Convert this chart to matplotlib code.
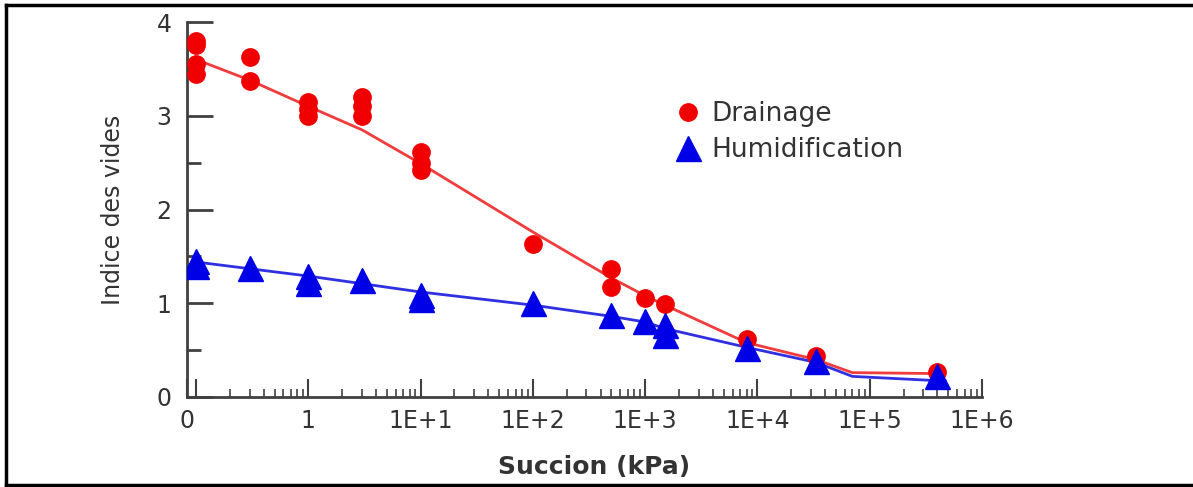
import numpy as np
import matplotlib.pyplot as plt
from matplotlib.ticker import FixedLocator, NullFormatter
from matplotlib.lines import Line2D

# Drainage measurements (succion kPa, indice des vides)
drain_x = [0.1, 0.1, 0.1, 0.1, 0.3, 0.3, 1, 1, 1, 3, 3, 3, 10, 10, 10,
           100, 500, 500, 1000, 1500, 8000, 33000, 400000]
drain_y = [3.80, 3.75, 3.55, 3.45, 3.63, 3.37, 3.15, 3.07, 3.00, 3.20, 3.10, 3.00,
           2.61, 2.50, 2.42, 1.63, 1.37, 1.17, 1.06, 0.99, 0.62, 0.44, 0.27]

# Humidification measurements
hum_x = [0.1, 0.1, 0.3, 1, 1, 3, 10, 10, 100, 500, 1000, 1500, 1500, 8000, 33000, 400000]
hum_y = [1.45, 1.40, 1.38, 1.29, 1.22, 1.25, 1.09, 1.05, 1.00, 0.88, 0.81, 0.77, 0.66,
         0.52, 0.38, 0.22]

# fitted curves
drain_fit_x = [0.1, 0.3, 1, 3, 10, 100, 500, 1000, 1500, 8000, 33000, 70000, 400000]
drain_fit_y = [3.60, 3.38, 3.10, 2.85, 2.49, 1.76, 1.27, 1.08, 0.98, 0.58, 0.40, 0.26, 0.25]
hum_fit_x = [0.1, 1, 10, 100, 500, 1000, 1500, 8000, 33000, 70000, 470000]
hum_fit_y = [1.44, 1.29, 1.12, 0.98, 0.86, 0.80, 0.73, 0.53, 0.37, 0.22, 0.17]

x_labels = ['0', '', '1', '1E+1', '1E+2', '1E+3', '1E+4', '1E+5', '1E+6']
X_MIN, X_MAX = 0.083, 1e6

RED = '#f00000'
BLUE = '#0000e6'
AXIS_COL = '#404040'
TXT_COL = '#333333'

plt.rcParams['font.family'] = ['DejaVu Sans']

fig = plt.figure(figsize=(11.93, 4.87), dpi=100)
ax = fig.add_axes([187 / 1193, 90 / 487, (982 - 187) / 1193, (397 - 22) / 487])

ax.plot(drain_fit_x, drain_fit_y, color='#f03c3c', lw=2, zorder=2)
ax.plot(hum_fit_x, hum_fit_y, color='#3030e0', lw=2, zorder=2)
ax.plot(drain_x, drain_y, 'o', color=RED, ms=12.5, mec=RED, ls='none', zorder=3,
        label='Drainage')
ax.plot(hum_x, hum_y, '^', color=BLUE, ms=18, mec=BLUE, ls='none', zorder=4,
        label='Humidification')

ax.set_xscale('log')
ax.set_xlim(X_MIN, X_MAX)
ax.set_ylim(0, 4)

major = [X_MIN] + [10.0 ** k for k in range(-1, 7)]
ax.xaxis.set_major_locator(FixedLocator(major))
ax.set_xticklabels(x_labels)
minor = [m * 10.0 ** k for k in range(-1, 6) for m in range(2, 10)]
ax.xaxis.set_minor_locator(FixedLocator(minor))
ax.xaxis.set_minor_formatter(NullFormatter())

ax.set_yticks([0, 1, 2, 3, 4])
ax.yaxis.set_minor_locator(FixedLocator([0.5, 1.5, 2.5, 3.5]))

for s in ['top', 'right']:
    ax.spines[s].set_visible(False)
for s in ['left', 'bottom']:
    ax.spines[s].set_color(AXIS_COL)
    ax.spines[s].set_linewidth(2)

ax.tick_params(axis='x', which='major', direction='in', length=13, width=1.5,
               color=AXIS_COL, labelsize=17, labelcolor=TXT_COL, pad=9)
ax.tick_params(axis='x', which='minor', direction='in', length=6, width=1.2,
               color=AXIS_COL)
ax.tick_params(axis='y', which='major', direction='in', length=19, width=2,
               color=AXIS_COL, labelsize=17, labelcolor=TXT_COL, pad=11)
ax.tick_params(axis='y', which='minor', direction='in', length=10, width=2,
               color=AXIS_COL)

ax.set_xlabel('Succion (kPa)', fontsize=18, fontweight='bold', color=TXT_COL,
              labelpad=15)
ax.xaxis.set_label_coords(0.512, -0.155)
ax.set_ylabel('Indice des vides', fontsize=17, color=TXT_COL, labelpad=23)

ax.legend(loc='upper left', bbox_to_anchor=(0.6, 0.825), frameon=False,
          fontsize=19, handlelength=0.8, handletextpad=0.5, labelspacing=0.4,
          borderpad=0, labelcolor=TXT_COL)

# frame around the figure
for xs, ys in [([6 / 1193, 1.0], [1 - 5 / 487, 1 - 5 / 487]),
               ([6 / 1193, 6 / 1193], [1 - 5 / 487, 2.5 / 487]),
               ([6 / 1193, 1.0], [2.5 / 487, 2.5 / 487])]:
    fig.add_artist(Line2D(xs, ys, color='black', lw=2.5, transform=fig.transFigure))

fig.savefig('out.png', dpi=100)
